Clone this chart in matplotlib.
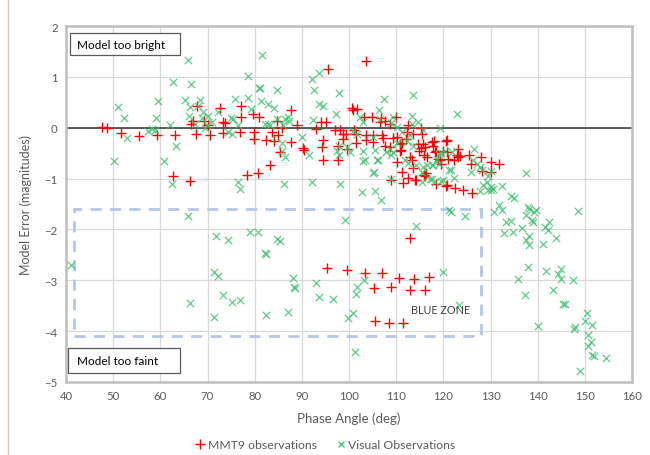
import matplotlib
matplotlib.use('Agg')
import matplotlib.pyplot as plt
from matplotlib.patches import Rectangle
from matplotlib.lines import Line2D

plt.rcParams['font.family'] = ['Lato', 'DejaVu Sans']

# MMT9 observations (phase angle, model error)
mmt9_x = [47.6, 48.6, 51.7, 55.5, 59.2, 63.2, 67.5, 70.5, 66.5, 67.0, 67.7, 69.3, 70.0, 72.6,
          73.3, 73.7, 73.3, 76.9, 77.2, 77.2, 79.6, 79.9, 79.9, 62.7, 66.3, 78.3, 80.8,
          81.0, 84.7, 85.7, 83.6, 85.0, 82.5, 84.1, 87.6, 85.4, 83.2, 87.8, 88.9, 90.3, 90.5,
          92.9, 94.0, 95.1, 94.4, 94.2, 94.5, 97.6, 95.5, 97.0, 98.1, 98.7, 97.7, 99.6, 98.8,
          99.4, 103.6, 100.6, 101.6, 100.9, 101.1, 101.5, 101.5,
          103.2, 104.8, 106.7, 106.6, 107.6, 109.9, 108.7, 112.6, 115.3, 115.5,
          103.6, 103.7, 105.0, 105.1, 106.9, 107.3, 107.6, 109.4, 110.1, 108.7, 111.2, 112.1,
          112.2, 113.6, 111.0, 112.9, 114.7, 115.2, 115.6, 115.9, 117.5, 118.2, 117.9, 119.9,
          120.7, 119.3, 119.6, 110.1, 111.2, 113.6, 115.9, 116.3, 108.9, 111.5, 114.0, 120.7,
          110.8, 110.8, 114.9, 116.1, 116.5, 118.4, 118.9, 122.8, 123.2, 121.0, 113.3, 112.6,
          114.2, 116.1, 118.4, 120.6, 122.5, 118.0, 120.6, 120.8, 123.2, 123.5, 125.5, 128.0,
          125.8, 130.0, 131.9, 128.1, 130.2, 124.2, 126.0, 122.3,
          113.0, 95.3, 99.6, 103.4, 107.1, 110.7, 113.7, 116.9, 105.3, 109.0, 112.9, 116.1,
          105.6, 108.5, 111.5]
mmt9_y = [0.01, 0.0, -0.10, -0.16, -0.15, -0.15, -0.13, -0.15, 0.08, 0.14, 0.43, 0.14, 0.05, 0.39,
          0.12, 0.09, -0.10, -0.09, 0.43, 0.22, 0.27, -0.09, -0.23, -0.94, -1.04, -0.92, -0.90,
          0.22, 0.14, 0.0, -0.09, -0.15, -0.24, -0.27, -0.29, -0.48, -0.73, 0.34, 0.06, -0.40, -0.43,
          -0.02, 0.11, 0.11, -0.24, -0.38, -0.64, -0.64, 1.15, -0.04, -0.05, -0.22, -0.36, -0.41, -0.12,
          -0.12, 1.31, 0.39, 0.37, 0.34, -0.05, -0.12, -0.31,
          0.22, 0.21, 0.19, 0.11, 0.14, 0.21, 0.08, 0.05, -0.01, -0.12,
          -0.15, -0.25, -0.14, -0.29, -0.14, -0.20, -0.35, -0.20, -0.18, -0.38, -0.30, -0.23,
          -0.08, -0.13, -0.43, -0.58, -0.33, -0.39, -0.33, -0.53, -0.28, -0.47, -0.35, -0.45,
          -0.25, -0.64, -0.71, -0.67, -0.87, -0.79, -0.92, -0.90, -1.03, -1.08, -1.03, -1.13,
          -0.33, -0.45, -0.45, -0.38, -0.58, -0.45, -0.61, -0.54, -0.41, -0.61, -0.64, -0.99,
          -1.02, -0.94, -1.10, -1.15, -1.18, -0.27, -0.27, -0.48, -0.58, -0.56, -0.54, -0.58,
          -0.71, -0.67, -0.71, -0.86, -0.88, -1.23, -1.28, -0.64,
          -2.16, -2.76, -2.79, -2.86, -2.86, -2.95, -2.97, -2.93, -3.15, -3.14, -3.20, -3.19,
          -3.80, -3.84, -3.84]

# Visual observations
vis_x = [41.0, 50.2, 51.1, 52.2, 53.0, 57.4, 58.2, 58.9, 59.6, 59.1, 60.8, 62.0, 62.4, 62.7,
         63.3, 65.3, 65.9, 66.4, 66.3, 66.1, 68.0, 68.4, 69.1, 68.8, 70.2, 67.3, 69.8, 69.5,
         70.9, 72.3, 75.8, 78.6, 79.2, 75.0, 75.5, 74.4, 75.1, 76.4, 76.5, 76.9, 78.5, 80.9, 65.9,
         71.8, 74.4, 79.0, 80.7, 71.4, 72.2, 66.3, 73.3, 75.3, 76.9, 71.3,
         106.7, 99.1, 114.1, 121.1, 84.8, 85.4, 82.2, 82.4, 88.1, 88.4, 88.6, 93.0, 93.7, 96.6,
         82.5, 87.0, 103.1, 101.8, 101.5, 100.9, 99.7, 101.3, 119.9, 123.4,
         135.8, 137.3, 143.3, 144.9, 147.4, 145.3, 145.9, 140.1, 150.4, 150.0, 151.6, 147.6,
         148.0, 150.6, 151.3, 150.6, 151.6, 151.9, 154.4, 149.0,
         123.0, 119.3, 137.5, 148.5, 132.5, 134.3, 135.0, 131.7, 130.7, 132.5, 137.9, 138.1,
         139.6, 139.3, 137.5, 138.9, 139.1, 133.2, 134.4, 136.6, 132.9, 134.7, 141.5, 142.1,
         142.3, 143.9, 138.1, 137.5, 138.2, 141.1, 124.6, 121.6, 138.0, 141.8, 144.4, 144.9,
         126.6, 126.3, 127.1, 127.8, 128.1, 125.8, 129.5, 130.1, 129.2, 128.5, 130.2, 130.6,
         127.8, 129.5, 130.1, 122.3, 121.6, 120.0, 117.5, 117.9, 119.1, 120.3, 121.8, 119.1,
         81.5, 81.1, 81.3, 84.7, 82.9, 84.1, 82.9, 83.2, 82.2, 84.7, 86.4, 87.0, 86.1, 87.3,
         85.7, 85.7, 86.4, 90.0, 91.6, 86.3, 92.1, 93.7, 92.6, 93.7, 94.5, 92.3, 97.8, 97.2,
         97.9, 97.4, 99.6, 100.2, 97.9, 92.1, 98.1, 100.8, 101.6, 102.3, 103.0, 102.9, 105.9,
         105.3, 102.7, 105.5, 106.4, 107.4, 105.1, 105.5, 107.8, 109.4, 113.3, 113.5, 109.0,
         110.1, 112.2, 113.5, 109.4, 111.9, 112.6, 114.3, 115.4, 116.5, 117.5, 118.6, 119.5,
         115.4, 118.2, 119.6, 121.3, 108.9, 106.6, 113.3, 114.7, 110.1, 111.2, 112.9, 115.7,
         103.0, 103.4, 106.2, 108.7, 109.0, 105.1, 115.7, 117.2]
vis_y = [-2.70, -0.66, 0.41, 0.20, -0.20, -0.07, -0.02, -0.04, 0.52, 0.20, -0.66, 0.05, -1.10, 0.90,
         -0.36, 0.55, 1.34, 0.86, 0.41, 0.24, 0.43, 0.54, 0.31, 0.19, 0.23, 0.08, 0.05, -0.01,
         0.11, 0.31, 0.57, 0.59, 0.36, 0.19, 0.18, -0.08, -0.12, 0.05, -1.07, -1.20, 1.01, 0.79, -1.74,
         -2.12, -2.21, -2.05, -2.05, -2.84, -2.91, -3.45, -3.28, -3.43, -3.38, -3.73,
         -1.43, -1.82, -1.93, -1.62, -2.18, -2.23, -2.46, -2.48, -2.95, -3.13, -3.16, -3.05, -3.33, -3.37,
         -3.68, -3.62, -3.0, -3.13, -3.27, -3.65, -3.75, -4.41, -2.84, -3.49,
         -2.97, -3.28, -3.20, -2.97, -3.0, -3.47, -3.46, -3.90, -3.65, -3.80, -3.88, -3.95,
         -3.92, -4.07, -4.21, -4.30, -4.46, -4.48, -4.52, -4.79,
         0.26, 0.0, -0.89, -1.64, -1.15, -1.34, -1.38, -1.51, -1.66, -1.62, -1.56, -1.59,
         -1.61, -1.66, -1.72, -1.82, -1.85, -1.85, -1.83, -1.98, -2.08, -2.05, -1.95, -2.02,
         -1.85, -2.17, -2.12, -2.21, -2.30, -2.29, -1.73, -1.66, -2.74, -2.82, -2.87, -2.78,
         -0.41, -0.64, -0.71, -0.77, -0.84, -0.87, -0.94, -0.86, -1.07, -1.13, -1.17, -1.21,
         -1.25, -1.23, -1.23, -0.98, -0.83, -1.03, -1.0, -0.74, -0.72, -0.45, -0.48, -0.51,
         1.43, 0.79, 0.52, 0.75, 0.47, 0.39, 0.08, 0.05, 0.07, 0.18, 0.18, 0.21, 0.05, 0.14,
         -0.31, -0.45, -0.58, -0.18, -0.53, -1.10, 0.96, 1.07, 0.75, 0.47, 0.43, 0.16, 0.69, 0.26,
         -0.35, -0.45, -0.38, -0.48, -0.54, -1.07, -1.10, -0.07, -0.12, 0.21, 0.11, -0.66, -0.64,
         -0.88, -1.26, -1.24, 0.34, 0.57, -0.18, -0.43, -0.48, 0.21, 0.23, 0.65, 0.09,
         -0.31, -0.27, -0.35, -0.48, -0.64, -0.69, -0.74, -0.87, -0.74, -0.74, -0.61, -0.50,
         -1.07, -1.07, -1.05, -0.83, -1.0, 0.18, 0.08, 0.11, 0.01, -0.08, -0.15, -0.05,
         -0.45, -0.64, -0.64, -0.41, -0.54, -0.89, -0.77, -1.0]

red = '#FF0000'
green = '#3DBE6E'
gray = '#595959'

fig = plt.figure(figsize=(6.5, 4.56), dpi=100)
ax = fig.add_axes([66 / 650, 1 - 383 / 456, 566 / 650, 356 / 456])

ax.set_xlim(40, 160)
ax.set_ylim(-5, 2)
ax.set_xticks(range(40, 161, 10))
ax.set_yticks(range(-5, 3))
ax.grid(True, color='#D9D9D9', lw=0.9)
ax.set_axisbelow(True)
ax.tick_params(length=0, labelsize=8.2, colors=gray, pad=6)
for s in ax.spines.values():
    s.set_color('#BFBFBF')
    s.set_linewidth(1.8)

ax.axhline(0, color='#404040', lw=1.2, zorder=1)

ax.scatter(mmt9_x, mmt9_y, marker='+', s=55, color=red, lw=1.0, zorder=3)
ax.scatter(vis_x, vis_y, marker='x', s=28, color=green, lw=0.9, alpha=0.8, zorder=3)

# blue zone
ax.add_patch(Rectangle((41.8, -4.1), 128 - 41.8, 2.5, fill=False, ec='#B4C7E7',
                       lw=2.0, ls=(0, (4, 3)), zorder=2))
ax.text(113.2, -3.57, 'BLUE ZONE', fontsize=7.8, color='#404040', va='center', zorder=4)

# text boxes
ax.add_patch(Rectangle((0.007, 0.918), 0.195, 0.062, transform=ax.transAxes,
                       fc='white', ec=gray, lw=0.9, zorder=5))
ax.text(0.02, 0.949, 'Model too bright', transform=ax.transAxes, fontsize=8.5,
        color='black', va='center', zorder=6)
ax.add_patch(Rectangle((0.004, 0.024), 0.197, 0.071, transform=ax.transAxes,
                       fc='white', ec=gray, lw=0.9, zorder=5))
ax.text(0.02, 0.06, 'Model too faint', transform=ax.transAxes, fontsize=8.5,
        color='black', va='center', zorder=6)

ax.set_xlabel('Phase Angle (deg)', fontsize=9.5, color=gray, labelpad=7)
ax.set_ylabel('Model Error (magnitudes)', fontsize=9, color=gray, labelpad=9)

handles = [Line2D([], [], ls='', marker='+', color=red, ms=7, mew=1.0),
           Line2D([], [], ls='', marker='x', color=green, ms=5, mew=0.9)]
leg = fig.legend(handles, ['MMT9 observations', 'Visual Observations'], loc='center',
                 bbox_to_anchor=(0.5, 1 - 446 / 456), ncol=2, frameon=False, fontsize=8.8,
                 handletextpad=0.1, columnspacing=1.5, handlelength=1.0)
for t in leg.get_texts():
    t.set_color(gray)

fig.add_artist(Line2D([8 / 650, 8 / 650], [0, 1], color='#D9CBB0', lw=1.0))

fig.savefig('out.png', dpi=100)
